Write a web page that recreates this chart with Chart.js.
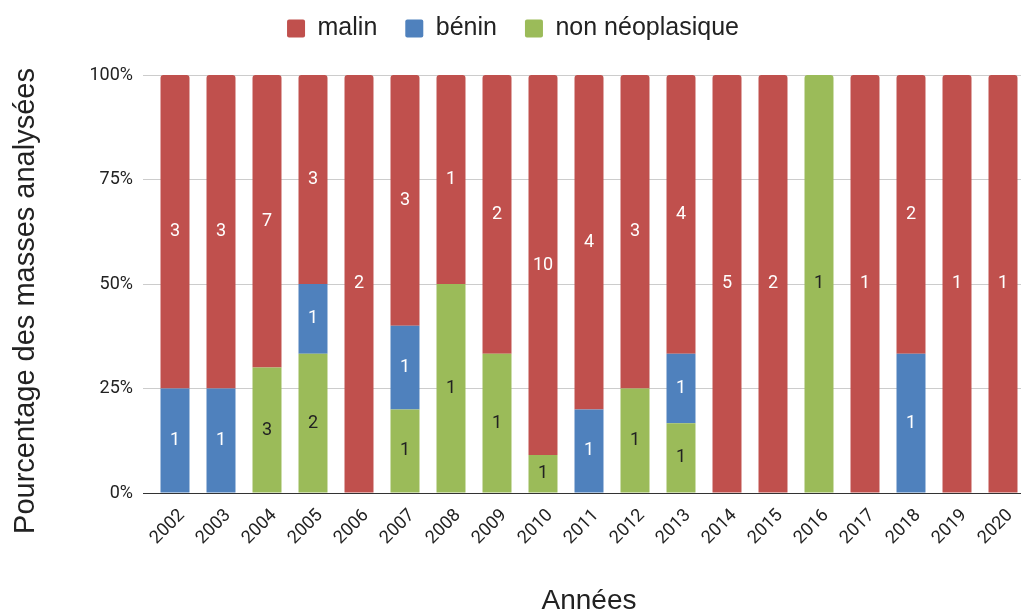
<!DOCTYPE html>
<html>
<head>
<meta charset="utf-8">
<script src="https://cdn.jsdelivr.net/npm/chart.js@4.4.0/dist/chart.umd.min.js"></script>
<style>
  html, body { margin: 0; padding: 0; background: #fff; overflow: hidden; }
  #wrap { width: 1030px; height: 615px; }
</style>
</head>
<body>
<div id="wrap"><canvas id="chart"></canvas></div>
<script>
"use strict";

const years = ['2002', '2003', '2004', '2005', '2006', '2007', '2008', '2009', '2010', '2011',
               '2012', '2013', '2014', '2015', '2016', '2017', '2018', '2019', '2020'];
// counts per year
const malin  = [3, 3, 7, 3, 2, 3, 1, 2, 10, 4, 3, 4, 5, 2, 0, 1, 2, 1, 1];
const benin  = [1, 1, 0, 1, 0, 1, 0, 0, 0, 1, 0, 1, 0, 0, 0, 0, 1, 0, 0];
const nonNeo = [0, 0, 3, 2, 0, 1, 1, 1, 1, 0, 1, 1, 0, 0, 1, 0, 0, 0, 0];
const yTicks = [0, 25, 50, 75, 100];

const totals = years.map((y, i) => malin[i] + benin[i] + nonNeo[i]);
const pct = arr => arr.map((v, i) => v / totals[i] * 100);

const textColor = '#222';
const sans = 'Liberation Sans, Arial, sans-serif';

// count written in the middle of each segment
const countLabels = {
    id: 'countLabels',
    afterDatasetsDraw(chart) {
        const ctx = chart.ctx;
        ctx.save();
        ctx.font = '18px Roboto';
        ctx.textAlign = 'center';
        ctx.textBaseline = 'middle';
        chart.data.datasets.forEach((ds, i) => {
            chart.getDatasetMeta(i).data.forEach((bar, j) => {
                const n = ds.counts[j];
                if (!n) return;
                ctx.fillStyle = ds.labelColor;
                ctx.fillText(String(n), bar.x, (bar.y + bar.base) / 2);
            });
        });
        ctx.restore();
    }
};

const axisTitles = {
    id: 'axisTitles',
    afterDraw(chart) {
        const ctx = chart.ctx;
        const area = chart.chartArea;
        ctx.save();
        ctx.fillStyle = textColor;
        ctx.textAlign = 'center';
        ctx.textBaseline = 'middle';
        ctx.font = '28px ' + sans;
        ctx.fillText('Années', (area.left + area.right) / 2, 601);
        ctx.font = '29px ' + sans;
        ctx.translate(26, 301);
        ctx.rotate(-Math.PI / 2);
        ctx.fillText('Pourcentage des masses analysées', 0, 0);
        ctx.restore();
    }
};

const ctx = document.getElementById('chart').getContext('2d');

new Chart(ctx, {
    type: 'bar',
    data: {
        labels: years,
        datasets: [
            {
                label: 'non néoplasique',
                data: pct(nonNeo),
                counts: nonNeo,
                labelColor: '#222',
                backgroundColor: '#9bbb59'
            },
            {
                label: 'bénin',
                data: pct(benin),
                counts: benin,
                labelColor: '#fff',
                backgroundColor: '#4f81bd'
            },
            {
                label: 'malin',
                data: pct(malin),
                counts: malin,
                labelColor: '#fff',
                backgroundColor: '#c0504d'
            }
        ]
    },
    options: {
        responsive: true,
        maintainAspectRatio: false,
        animation: false,
        datasets: {
            bar: {
                barPercentage: 0.63,
                categoryPercentage: 1,
                borderRadius: 3
            }
        },
        layout: {
            padding: { top: -12, right: 4, bottom: 0, left: 0 }
        },
        plugins: {
            legend: {
                position: 'top',
                reverse: true,
                labels: {
                    font: { family: sans, size: 25 },
                    color: textColor,
                    boxWidth: 18,
                    boxHeight: 18,
                    padding: 28,
                    useBorderRadius: true,
                    borderRadius: 2
                }
            },
            // empty spacer between legend and plot
            title: {
                display: true,
                text: '',
                weight: 500,
                padding: 0,
                font: { size: 24, lineHeight: 1 }
            },
            tooltip: { enabled: false }
        },
        scales: {
            x: {
                stacked: true,
                grid: { display: false },
                border: { display: true, color: '#333' },
                ticks: {
                    font: { family: 'Roboto', size: 18 },
                    color: textColor,
                    minRotation: 45,
                    maxRotation: 45,
                    autoSkip: false,
                    labelOffset: 7,
                    padding: 4
                },
                afterFit: function(scale) {
                    scale.height = 122;
                }
            },
            y: {
                stacked: true,
                min: 0,
                max: 100,
                border: { display: false },
                grid: {
                    color: c => c.tick && c.tick.value === 0 ? '#333' : '#ccc',
                    tickLength: 9
                },
                ticks: {
                    font: { family: 'Roboto', size: 18 },
                    color: textColor,
                    padding: 10,
                    callback: v => v + '%'
                },
                afterBuildTicks: function(scale) {
                    scale.ticks = yTicks.map(v => ({ value: v }));
                },
                afterFit: function(scale) {
                    scale.width = 152;
                }
            }
        }
    },
    plugins: [countLabels, axisTitles]
});
</script>
</body>
</html>
